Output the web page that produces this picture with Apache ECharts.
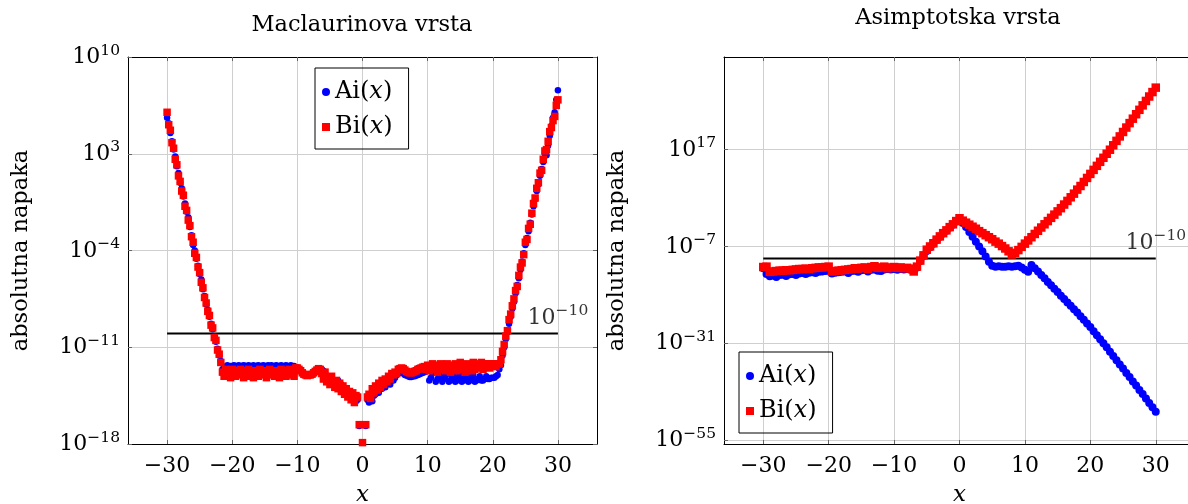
<!DOCTYPE html>
<html><head><meta charset="utf-8">
<script src="https://cdn.jsdelivr.net/npm/echarts@6/dist/echarts.min.js"></script>
<style>html,body{margin:0;padding:0;background:#fff}#c{width:1188px;height:504px}</style>
</head><body><div id="c"></div>
<script>
// ---- data (error values stored as base-10 exponents) ----
const xTicks = [-30, -20, -10, 0, 10, 20, 30];
const yTicksMaclaurin = [1e-18, 1e-11, 1e-4, 1e3, 1e10];
const yTicksAsymptotic = [1e-55, 1e-31, 1e-7, 1e17];
const thresholdX = [-30, 30];
const thresholdY = [1e-10, 1e-10];

const xMaclaurin = [
-30,-29.75,-29.5,-29.25,-29,-28.75,-28.5,-28.25,-28,-27.75,-27.5,-27.25,-27,-26.75,-26.5,-26.25,-26,-25.75,-25.5,-25.25,
-25,-24.75,-24.5,-24.25,-24,-23.75,-23.5,-23.25,-23,-22.75,-22.5,-22.25,-22,-21.75,-21.5,-21.25,-21,-20.75,-20.5,-20.25,
-20,-19.75,-19.5,-19.25,-19,-18.75,-18.5,-18.25,-18,-17.75,-17.5,-17.25,-17,-16.75,-16.5,-16.25,-16,-15.75,-15.5,-15.25,
-15,-14.75,-14.5,-14.25,-14,-13.75,-13.5,-13.25,-13,-12.75,-12.5,-12.25,-12,-11.75,-11.5,-11.25,-11,-10.75,-10.5,-10.25,
-10,-9.75,-9.5,-9.25,-9,-8.75,-8.5,-8.25,-8,-7.75,-7.5,-7.25,-7,-6.75,-6.5,-6.25,-6,-5.75,-5.5,-5.25,
-5,-4.75,-4.5,-4.25,-4,-3.75,-3.5,-3.25,-3,-2.75,-2.5,-2.25,-2,-1.75,-1.5,-1.25,-1,-0.75,-0.5,-0.25,
0,0.25,0.5,0.75,1,1.25,1.5,1.75,2,2.25,2.5,2.75,3,3.25,3.5,3.75,4,4.25,4.5,4.75,
5,5.25,5.5,5.75,6,6.25,6.5,6.75,7,7.25,7.5,7.75,8,8.25,8.5,8.75,9,9.25,9.5,9.75,
10,10.25,10.5,10.75,11,11.25,11.5,11.75,12,12.25,12.5,12.75,13,13.25,13.5,13.75,14,14.25,14.5,14.75,
15,15.25,15.5,15.75,16,16.25,16.5,16.75,17,17.25,17.5,17.75,18,18.25,18.5,18.75,19,19.25,19.5,19.75,
20,20.25,20.5,20.75,21,21.25,21.5,21.75,22,22.25,22.5,22.75,23,23.25,23.5,23.75,24,24.25,24.5,24.75,
25,25.25,25.5,25.75,26,26.25,26.5,26.75,27,27.25,27.5,27.75,28,28.25,28.5,28.75,29,29.25,29.5,29.75,
30];

const aiMaclaurinLog10 = [
5.6,5.2,4.5,3.9,3.3,2.8,2.1,1.6,0.9,0.5,-0.1,-0.6,-1.2,-1.6,-2.3,-2.9,-3.6,-4.0,-4.6,-5.1,
-5.7,-6.1,-6.8,-7.3,-7.9,-8.3,-8.8,-9.3,-9.7,-10.2,-10.6,-11.1,-11.6,-12.0,-12.6,-12.5,-12.4,-12.3,-12.4,-12.35,
-12.4,-12.3,-12.35,-12.4,-12.3,-12.4,-12.35,-12.3,-12.35,-12.4,-12.3,-12.35,-12.4,-12.3,-12.4,-12.35,-12.3,-12.35,-12.4,-12.3,
-12.35,-12.4,-12.3,-12.4,-12.3,-12.35,-12.4,-12.3,-12.35,-12.4,-12.3,-12.35,-12.4,-12.3,-12.35,-12.4,-12.3,-12.4,-12.35,-12.45,
-12.5,-12.6,-12.7,-12.8,-12.9,-12.95,-13.0,-13.0,-13.0,-12.95,-12.9,-12.8,-12.7,-12.6,-12.55,-12.6,-12.7,-12.9,-13.1,-13.3,
-13.4,-13.2,-13.35,-13.6,-13.6,-13.4,-13.8,-13.7,-13.9,-14.1,-14.0,-14.3,-14.3,-14.5,-14.5,-14.8,-14.9,-14.8,-16.7,null,
null,null,-16.7,-14.8,-15.0,-14.7,-14.9,-14.5,-14.4,-14.2,-14.3,-14.0,-14.0,-13.8,-13.9,-13.6,-13.5,-13.7,-13.3,-13.4,
-13.2,-13.0,-12.9,-12.8,-12.8,-12.9,-13.0,-13.05,-13.1,-13.15,-13.15,-13.1,-13.1,-13.05,-13.0,-12.95,-12.9,-12.85,-12.8,-12.75,
-12.7,-13.4,-13.2,-12.9,-12.7,-13.5,-13.3,-13.1,-12.9,-13.5,-13.3,-13.1,-12.9,-13.5,-13.4,-13.2,-13.0,-13.5,-13.4,-13.2,
-13.0,-13.5,-13.4,-13.2,-13.0,-13.5,-13.4,-13.2,-13.0,-13.5,-13.4,-13.3,-13.1,-13.4,-13.4,-13.3,-13.1,-13.3,-13.3,-13.2,
-13.2,-13.2,-13.1,-13.0,-12.6,-12.3,-11.6,-11.0,-10.4,-9.9,-9.3,-8.8,-8.2,-7.7,-7.1,-6.5,-6.0,-5.4,-4.8,-4.2,
-3.6,-3.1,-2.6,-2.0,-1.4,-0.8,-0.3,0.3,0.8,1.4,1.9,2.4,3.0,2.9,3.6,4.3,5.0,5.6,6.0,6.9,
7.6];

const biMaclaurinLog10 = [
6.0,5.1,4.7,3.8,3.4,2.6,2.2,1.4,1.0,0.3,0.0,-0.8,-1.1,-1.8,-2.2,-3.0,-3.4,-4.2,-4.5,-5.2,
-5.6,-6.3,-6.7,-7.4,-7.8,-8.4,-8.7,-9.4,-9.6,-10.3,-10.5,-11.2,-11.5,-12.1,-12.8,-13.1,-12.6,-13.0,-12.7,-13.2,
-12.6,-12.9,-13.1,-12.7,-13.0,-12.6,-12.9,-13.2,-12.7,-13.0,-12.6,-13.1,-12.8,-13.2,-12.7,-12.9,-13.1,-12.6,-13.0,-12.8,
-12.7,-13.2,-12.9,-12.6,-13.0,-12.8,-13.1,-12.7,-12.9,-13.2,-12.6,-13.0,-12.7,-13.1,-12.8,-12.6,-13.0,-12.7,-13.1,-12.5,
-12.5,-12.6,-12.7,-12.85,-12.95,-13.0,-13.05,-13.0,-13.0,-12.95,-12.85,-12.75,-12.65,-12.55,-12.6,-12.9,-13.3,-12.8,-13.5,-13.2,
-13.7,-13.1,-13.6,-13.9,-13.4,-14.0,-13.6,-14.2,-13.8,-14.4,-14.0,-14.6,-14.2,-14.8,-14.3,-15.0,-14.5,-14.6,-16.6,null,
-17.9,null,-16.6,-14.6,-14.4,-14.7,-14.0,-14.3,-13.8,-14.1,-13.6,-13.9,-13.4,-13.7,-13.3,-13.5,-13.1,-13.3,-12.9,-13.0,
-12.8,-12.9,-12.6,-12.55,-12.5,-12.55,-12.65,-12.75,-12.8,-12.85,-12.85,-12.8,-12.75,-12.7,-12.6,-12.55,-12.5,-12.45,-12.4,-12.6,
-12.3,-12.7,-12.4,-12.2,-12.6,-12.3,-12.8,-12.4,-12.2,-12.6,-12.3,-12.7,-12.2,-12.5,-12.8,-12.3,-12.6,-12.2,-12.7,-12.4,
-12.1,-12.6,-12.3,-12.8,-12.2,-12.5,-12.3,-12.7,-12.1,-12.6,-12.2,-12.5,-12.3,-12.1,-12.6,-12.2,-12.4,-12.2,-12.5,-12.2,
-12.3,-12.2,-12.4,-12.2,-12.2,-11.9,-11.3,-10.8,-10.2,-9.8,-9.0,-8.6,-8.0,-7.5,-6.9,-6.6,-5.8,-5.2,-4.9,-4.3,
-3.4,-3.2,-2.4,-2.1,-1.3,-0.6,-0.2,0.5,0.9,1.6,1.8,2.6,3.2,3.3,3.9,4.6,4.9,5.4,5.7,6.5,
6.9];

const xAsymptotic = [
-30,-29.5,-29,-28.5,-28,-27.5,-27,-26.5,-26,-25.5,-25,-24.5,-24,-23.5,-23,-22.5,-22,-21.5,-21,-20.5,
-20,-19.5,-19,-18.5,-18,-17.5,-17,-16.5,-16,-15.5,-15,-14.5,-14,-13.5,-13,-12.5,-12,-11.5,-11,-10.5,
-10,-9.5,-9,-8.5,-8,-7.5,-7,-6.5,-6,-5.5,-5,-4.5,-4,-3.5,-3,-2.5,-2,-1.5,-1,-0.5,
0,0.5,1,1.5,2,2.5,3,3.5,4,4.5,5,5.5,6,6.5,7,7.5,8,8.5,9,9.5,
10,10.5,11,11.5,12,12.5,13,13.5,14,14.5,15,15.5,16,16.5,17,17.5,18,18.5,19,19.5,
20,20.5,21,21.5,22,22.5,23,23.5,24,24.5,25,25.5,26,26.5,27,27.5,28,28.5,29,29.5,
30];

const aiAsymptoticLog10 = [
-12.4,-13.8,-14.4,-14.2,-14.6,-14.1,-14.0,-14.3,-13.9,-13.8,-14.1,-13.7,-13.6,-13.8,-13.5,-13.4,-13.6,-13.3,-13.2,-13.1,
-13.0,-13.7,-13.5,-13.4,-13.3,-13.2,-13.6,-13.1,-13.0,-13.3,-12.9,-12.8,-13.2,-12.8,-12.7,-13.0,-13.1,-12.7,-12.6,-12.7,
-12.6,-12.8,-12.6,-12.7,-12.6,-12.8,-13.1,-12.2,-10.6,-9.3,-8.1,-7.2,-6.3,-5.4,-4.6,-3.8,-3.1,-2.3,-1.6,-0.8,
-0.2,-1.2,-2.2,-3.4,-4.6,-5.8,-7.0,-8.2,-9.5,-10.8,-11.8,-12.0,-11.9,-12.0,-12.0,-11.9,-12.0,-11.9,-11.8,-12.2,
-12.8,-13.3,-11.6,-12.4,-13.2,-14.1,-14.9,-15.8,-16.6,-17.5,-18.3,-19.2,-20.0,-20.9,-21.7,-22.6,-23.4,-24.3,-25.2,-26.1,
-27.0,-28.0,-29.0,-30.0,-31.0,-32.0,-33.1,-34.2,-35.2,-36.3,-37.3,-38.4,-39.4,-40.5,-41.5,-42.6,-43.6,-44.7,-45.8,-46.9,
-48.0];

const biAsymptoticLog10 = [
-12.1,-12.0,-13.3,-13.2,-13.1,-13.0,-13.0,-12.9,-12.9,-12.8,-12.7,-12.6,-12.6,-12.5,-12.6,-12.4,-12.3,-12.2,-12.2,-12.1,
-12.0,-13.2,-13.1,-13.0,-12.9,-12.8,-12.7,-12.6,-12.4,-12.5,-12.3,-12.2,-12.6,-12.1,-11.9,-12.3,-12.2,-12.0,-12.4,-12.2,
-12.1,-12.3,-12.2,-12.4,-12.3,-12.5,-13.2,-12.0,-10.5,-9.2,-7.8,-7.0,-6.2,-5.3,-4.5,-3.7,-3.0,-2.2,-1.5,-0.7,
0.0,-0.6,-1.1,-1.6,-2.1,-2.6,-3.2,-3.7,-4.2,-4.7,-5.2,-5.8,-6.3,-6.9,-7.5,-8.2,-9.0,-8.6,-7.9,-7.1,
-6.3,-5.5,-4.7,-3.9,-3.1,-2.3,-1.5,-0.7,0.1,0.9,1.7,2.5,3.4,4.3,5.2,6.1,7.1,8.0,9.0,10.0,
11.0,12.0,13.0,14.0,15.0,16.0,17.0,18.1,19.2,20.3,21.4,22.5,23.6,24.7,25.8,26.9,28.0,29.1,30.2,31.3,
32.4];

// ---- chart ----
const F = "'DejaVu Serif', serif";
const BLUE = '#0000ff', RED = '#ff0000';
const GRID_COLOR = '#cfcfcf';

function pairs(xs, exps) {
  const out = [];
  for (let i = 0; i < xs.length; i++) {
    if (exps[i] !== null) out.push([xs[i], Math.pow(10, exps[i])]);
  }
  return out;
}
function minusStr(n) { return n < 0 ? '\u2212' + (-n) : String(n); }
function fmtX(v) { return minusStr(Math.round(v)); }
function fmtPow(v) { return '{b|10}{s|' + minusStr(Math.round(Math.log10(v))) + '}'; }
const powRich = {
  b: { fontFamily: F, fontSize: 22, color: '#000', verticalAlign: 'bottom', lineHeight: 23 },
  s: { fontFamily: F, fontSize: 15.5, color: '#000', verticalAlign: 'bottom', lineHeight: 16, padding: [0, 0, 10, 0] }
};

function xMain(g) {
  return {
    gridIndex: g, type: 'value', min: -36, max: 36, position: 'bottom',
    axisLine: { show: true, onZero: false, lineStyle: { color: '#000', width: 1 } },
    axisTick: { show: true, inside: true, length: 4, customValues: xTicks, lineStyle: { color: '#666' } },
    axisLabel: { customValues: xTicks, formatter: fmtX, fontFamily: F, fontSize: 22, color: '#000', margin: 11 },
    splitLine: { show: true, lineStyle: { color: GRID_COLOR, width: 1 } },
    name: 'x', nameLocation: 'middle', nameGap: 40,
    nameTextStyle: { fontFamily: F, fontStyle: 'italic', fontSize: 23, color: '#000' }
  };
}
function xTop(g) {
  return {
    gridIndex: g, type: 'value', min: -36, max: 36, position: 'top',
    axisLine: { show: true, onZero: false, lineStyle: { color: '#000', width: 1 } },
    axisTick: { show: true, inside: true, length: 4, customValues: xTicks, lineStyle: { color: '#666' } },
    axisLabel: { show: false }, splitLine: { show: false }
  };
}
function yMain(g, min, max, ticks) {
  return {
    gridIndex: g, type: 'log', logBase: 10, min: min, max: max, position: 'left',
    axisLine: { show: true, onZero: false, lineStyle: { color: '#000', width: 1 } },
    axisTick: { show: true, inside: true, length: 4, customValues: ticks, lineStyle: { color: '#666' } },
    axisLabel: { customValues: ticks, formatter: fmtPow, rich: powRich, margin: 8 },
    splitLine: { show: true, lineStyle: { color: GRID_COLOR, width: 1 } },
    minorTick: { show: false },
    name: 'absolutna napaka', nameLocation: 'middle', nameGap: 95, nameRotate: 90,
    nameTextStyle: { fontFamily: F, fontSize: 22.5, color: '#000' }
  };
}
function yRight(g, min, max, ticks) {
  return {
    gridIndex: g, type: 'log', logBase: 10, min: min, max: max, position: 'right',
    axisLine: { show: true, onZero: false, lineStyle: { color: '#000', width: 1 } },
    axisTick: { show: true, inside: true, length: 4, customValues: ticks, lineStyle: { color: '#666' } },
    axisLabel: { show: false }, splitLine: { show: false }
  };
}
function legend(left, top) {
  return {
    left: left, top: top, orient: 'vertical',
    data: [{ name: 'Ai(x)', icon: 'circle' }, { name: 'Bi(x)', icon: 'rect' }],
    borderColor: '#000', borderWidth: 1, borderRadius: 0,
    padding: [11, 16, 9, 7], itemGap: 9, itemWidth: 8, itemHeight: 8,
    selectedMode: false,
    formatter: function (n) { return '{n|' + n.slice(0, 2) + '(}{i|x}{n|)}'; },
    textStyle: {
      color: '#000', fontSize: 24, lineHeight: 26, fontFamily: F,
      rich: {
        n: { fontFamily: F, fontSize: 24, color: '#000', lineHeight: 26 },
        i: { fontFamily: F, fontSize: 24, fontStyle: 'italic', color: '#000', lineHeight: 26 }
      }
    }
  };
}
function thresholdSeries(xi, yi) {
  return {
    type: 'line', xAxisIndex: xi, yAxisIndex: yi,
    data: [[thresholdX[0], thresholdY[0]], [thresholdX[1], thresholdY[1]]],
    symbol: 'none', lineStyle: { color: '#000', width: 2 }, silent: true, z: 1, animation: false
  };
}
function thresholdLabel(xi, yi) {
  return {
    type: 'scatter', xAxisIndex: xi, yAxisIndex: yi,
    data: [[thresholdX[1], thresholdY[1]]], symbolSize: 1, itemStyle: { color: 'rgba(0,0,0,0)' },
    label: { show: true, position: 'top', distance: 4, formatter: fmtPow(thresholdY[1]), rich: powRich },
    silent: true, z: 5, animation: false
  };
}
function scatter(name, xi, yi, xs, exps, symbol, size, color) {
  return {
    type: 'scatter', name: name, xAxisIndex: xi, yAxisIndex: yi, data: pairs(xs, exps),
    symbol: symbol, symbolSize: size, itemStyle: { color: color, opacity: 1 }, z: 3, animation: false
  };
}

const chart = echarts.init(document.getElementById('c'), null, { renderer: 'canvas' });
chart.setOption({
  animation: false,
  backgroundColor: '#fff',
  grid: [
    { left: 128, top: 57, width: 469, height: 387, outerBoundsMode: 'none', containLabel: false },
    { left: 724, top: 57, width: 471, height: 387, outerBoundsMode: 'none', containLabel: false }
  ],
  xAxis: [xMain(0), xTop(0), xMain(1), xTop(1)],
  yAxis: [
    yMain(0, 1e-18, 1e10, yTicksMaclaurin), yRight(0, 1e-18, 1e10, yTicksMaclaurin),
    yMain(1, 1e-56, 1e40, yTicksAsymptotic), yRight(1, 1e-56, 1e40, yTicksAsymptotic)
  ],
  legend: [legend(315, 68), legend(739, 352)],
  graphic: [
    { type: 'text', x: 362, y: 25, style: { text: 'Maclaurinova vrsta', font: '22.5px ' + F, fill: '#000', textAlign: 'center', textVerticalAlign: 'middle' } },
    { type: 'text', x: 958, y: 18, style: { text: 'Asimptotska vrsta', font: '22.5px ' + F, fill: '#000', textAlign: 'center', textVerticalAlign: 'middle' } }
  ],
  series: [
    thresholdSeries(0, 0),
    scatter('Ai(x)', 0, 0, xMaclaurin, aiMaclaurinLog10, 'circle', 6.5, BLUE),
    scatter('Bi(x)', 0, 0, xMaclaurin, biMaclaurinLog10, 'rect', 7.5, RED),
    thresholdLabel(0, 0),
    thresholdSeries(2, 2),
    scatter('Ai(x)', 2, 2, xAsymptotic, aiAsymptoticLog10, 'circle', 8, BLUE),
    scatter('Bi(x)', 2, 2, xAsymptotic, biAsymptoticLog10, 'rect', 8.5, RED),
    thresholdLabel(2, 2)
  ]
});
</script>
</body></html>
